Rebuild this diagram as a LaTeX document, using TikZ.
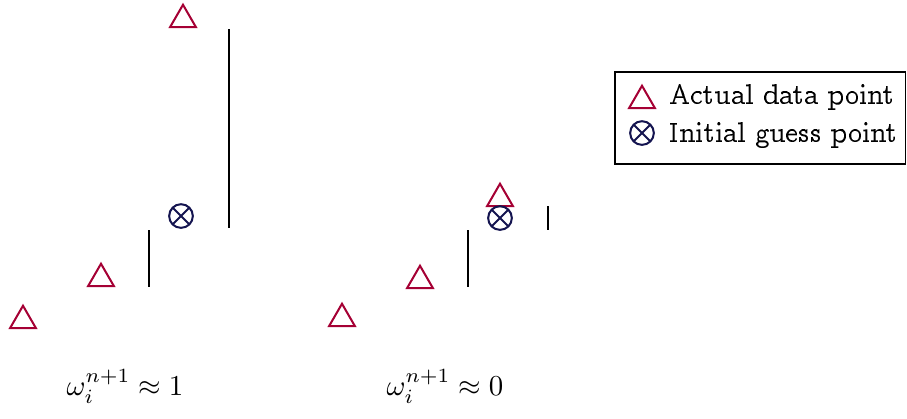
\documentclass[tikz,border=0pt]{standalone}
\definecolor{datared}{RGB}{165, 0, 52}
\definecolor{guessblue}{RGB}{20, 20, 80}
\usepackage{tikz}
\usetikzlibrary{shapes.geometric, positioning, calc}
\usepackage{amsmath}
\newcommand{\legfont}{\fontencoding{OT1}\fontfamily{ccr}\selectfont}
\tikzset{
  datapt/.style={regular polygon, regular polygon sides=3, draw=datared,
    line width=0.7pt, inner sep=0pt, minimum size=10.3pt},
  guesspt/.style={circle, draw=guessblue, line width=0.7pt, inner sep=0pt,
    minimum size=8.2pt, path picture={
      \draw[guessblue, line width=0.7pt]
        (path picture bounding box.north west) -- (path picture bounding box.south east)
        (path picture bounding box.north east) -- (path picture bounding box.south west);}},
  resid/.style={line width=0.8pt, black}
}

\begin{document}
\begin{tikzpicture}[x=0.01218cm, y=-0.01218cm]
        \useasboundingbox (0,0) rectangle (907,418);

        % Data points (red)
        \foreach \n/\x/\y in {la/23/320.6, lb/101/278.6, lc/183/19.6,
                              ra/342/318.6, rb/420/280.6, rc/500/198.6}{
          \node[datapt] (\n) at (\x,\y) {};
        }
        % Guess points
        \node[guesspt] (lg) at (181,216) {};
        \node[guesspt] (rg) at (500,218) {};

        % Residual bars
        \coordinate (l1t) at (149,230); \coordinate (l1b) at (149,287);
        \coordinate (l2t) at (229,29);  \coordinate (l2b) at (229,228);
        \coordinate (r1t) at (468,230); \coordinate (r1b) at (468,287);
        \coordinate (r2t) at (548,206); \coordinate (r2b) at (548,230);
        \draw[resid] (l1t) -- (l1b);
        \draw[resid] (l2t) -- (l2b);
        \draw[resid] (r1t) -- (r1b);
        \draw[resid] (r2t) -- (r2b);

        % Weights
        \node[anchor=base] (lw) at (125,395) {$\omega_i^{n+1}\approx 1$};
        \node[anchor=base] (rw) at (445,395) {$\omega_i^{n+1}\approx 0$};

        % Legend
        \draw[line width=0.6pt] (615,72) rectangle (905.5,164);
        \node[datapt] (legd) at (642,100.6) {};
        \node[guesspt] (legg) at (642,133) {};
        \node[anchor=base west, inner sep=0pt, font=\legfont] (legdt) at (669,104) {Actual data point};
        \node[anchor=base west, inner sep=0pt, font=\legfont] (leggt) at (669,142) {Initial guess point};
      \end{tikzpicture}
\end{document}
